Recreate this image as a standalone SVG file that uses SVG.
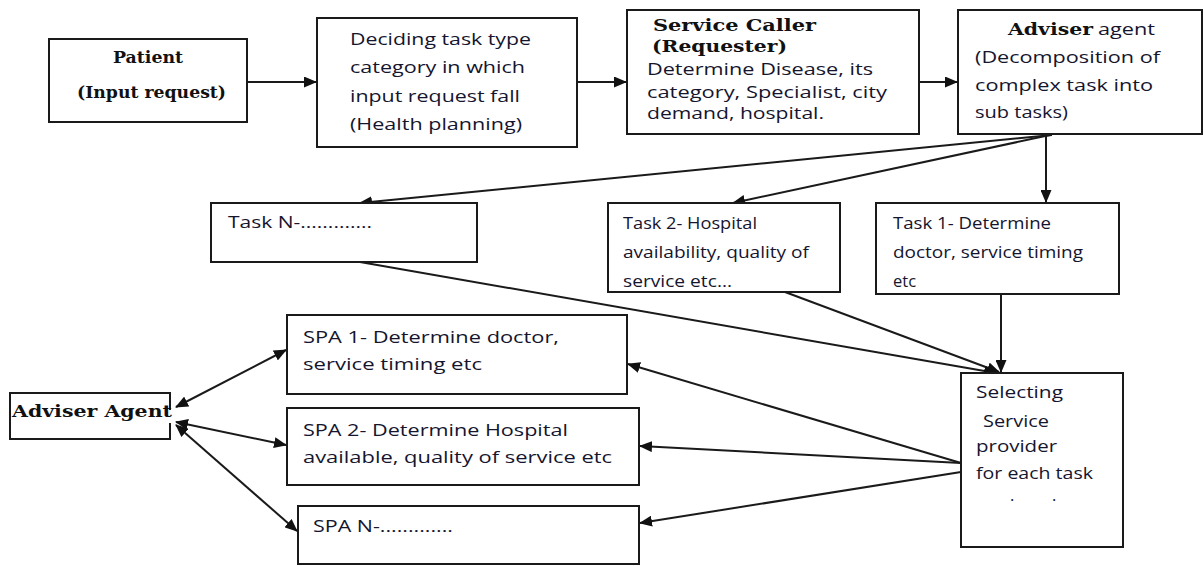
<svg xmlns="http://www.w3.org/2000/svg" width="1204" height="566" viewBox="0 0 1204 566">
  <style>
    .box { fill: #fff; stroke: #1a1a1a; stroke-width: 2; }
    .t { font-family: "Open Sans", "Noto Sans", sans-serif; font-size: 16.5px; fill: #15152e; }
    .b { font-family: "DejaVu Serif", "Liberation Serif", serif; font-size: 16px; font-weight: bold; fill: #111; }
    .edge { fill: none; stroke: #1a1a1a; stroke-width: 2; }
  </style>
  <defs>
    <marker id="arr" markerUnits="userSpaceOnUse" markerWidth="13" markerHeight="11" refX="12" refY="5.5" orient="auto-start-reverse">
      <path d="M0,0 L13,5.5 L0,11 z" fill="#111"/>
    </marker>
  </defs>
  <rect width="1204" height="566" fill="#fff"/>

  <g id="connectors">
    <line class="edge" x1="247" y1="82" x2="316" y2="82" marker-end="url(#arr)"/>
    <line class="edge" x1="577" y1="82" x2="626" y2="82" marker-end="url(#arr)"/>
    <line class="edge" x1="919" y1="82" x2="957" y2="82" marker-end="url(#arr)"/>
    <line class="edge" x1="1046" y1="135" x2="1046" y2="202" marker-end="url(#arr)"/>
    <line class="edge" x1="1050" y1="135" x2="733" y2="203" marker-end="url(#arr)"/>
    <line class="edge" x1="1052" y1="135" x2="360" y2="203" marker-end="url(#arr)"/>
    <line class="edge" x1="1001" y1="294" x2="1001" y2="372" marker-end="url(#arr)"/>
    <line class="edge" x1="785" y1="292" x2="999" y2="372" marker-end="url(#arr)"/>
    <line class="edge" x1="360" y1="262" x2="996" y2="373" marker-end="url(#arr)"/>
    <line class="edge" x1="961" y1="463" x2="628" y2="364" marker-end="url(#arr)"/>
    <line class="edge" x1="961" y1="463" x2="640" y2="446" marker-end="url(#arr)"/>
    <line class="edge" x1="961" y1="472" x2="640" y2="523" marker-end="url(#arr)"/>
    <line class="edge" x1="176" y1="407" x2="286" y2="350" marker-start="url(#arr)" marker-end="url(#arr)"/>
    <line class="edge" x1="176" y1="422" x2="286" y2="445" marker-start="url(#arr)" marker-end="url(#arr)"/>
    <line class="edge" x1="176" y1="425" x2="297" y2="531" marker-start="url(#arr)" marker-end="url(#arr)"/>
  </g>

  <g id="patient">
    <rect class="box" x="49" y="39" width="198" height="83"/>
    <text class="b" x="113" y="63" textLength="70" lengthAdjust="spacingAndGlyphs">Patient</text>
    <text class="b" x="77" y="98" textLength="149" lengthAdjust="spacingAndGlyphs" font-weight="normal">(Input request)</text>
  </g>

  <g id="deciding">
    <rect class="box" x="317" y="18" width="260" height="129"/>
    <text class="t" x="350" y="45" textLength="181" lengthAdjust="spacingAndGlyphs">Deciding task type</text>
    <text class="t" x="350" y="73" textLength="175" lengthAdjust="spacingAndGlyphs">category in which</text>
    <text class="t" x="350" y="102" textLength="170" lengthAdjust="spacingAndGlyphs">input request fall</text>
    <text class="t" x="350" y="130" textLength="172" lengthAdjust="spacingAndGlyphs">(Health planning)</text>
  </g>

  <g id="service-caller">
    <rect class="box" x="627" y="10" width="292" height="124"/>
    <text class="b" x="653" y="31" font-size="15" textLength="163" lengthAdjust="spacingAndGlyphs">Service Caller</text>
    <text class="b" x="652" y="52" font-size="15" textLength="135" lengthAdjust="spacingAndGlyphs">(Requester)</text>
    <text class="t" x="647" y="75" textLength="226" lengthAdjust="spacingAndGlyphs">Determine Disease, its</text>
    <text class="t" x="647" y="98" textLength="240" lengthAdjust="spacingAndGlyphs">category, Specialist, city</text>
    <text class="t" x="647" y="119" textLength="177" lengthAdjust="spacingAndGlyphs">demand, hospital.</text>
  </g>

  <g id="adviser-top">
    <rect class="box" x="958" y="10" width="244" height="124"/>
    <text class="b" x="1008" y="35" textLength="85" lengthAdjust="spacingAndGlyphs">Adviser</text>
    <text class="t" x="1098" y="35" textLength="57" lengthAdjust="spacingAndGlyphs">agent</text>
    <text class="t" x="975" y="63" textLength="185" lengthAdjust="spacingAndGlyphs">(Decomposition of</text>
    <text class="t" x="975" y="91" textLength="178" lengthAdjust="spacingAndGlyphs">complex task into</text>
    <text class="t" x="975" y="118" textLength="93" lengthAdjust="spacingAndGlyphs">sub tasks)</text>
  </g>

  <g id="task-n">
    <rect class="box" x="211" y="203" width="266" height="59"/>
    <text class="t" x="228" y="228" textLength="144" lengthAdjust="spacingAndGlyphs">Task N-.............</text>
  </g>

  <g id="task-2">
    <rect class="box" x="608" y="203" width="232" height="89"/>
    <text class="t" x="623" y="229" textLength="134" lengthAdjust="spacingAndGlyphs">Task 2- Hospital</text>
    <text class="t" x="623" y="258" textLength="186" lengthAdjust="spacingAndGlyphs">availability, quality of</text>
    <text class="t" x="623" y="287" textLength="109" lengthAdjust="spacingAndGlyphs">service etc...</text>
  </g>

  <g id="task-1">
    <rect class="box" x="876" y="203" width="243" height="91"/>
    <text class="t" x="893" y="229" textLength="158" lengthAdjust="spacingAndGlyphs">Task 1- Determine</text>
    <text class="t" x="893" y="258" textLength="190" lengthAdjust="spacingAndGlyphs">doctor, service timing</text>
    <text class="t" x="893" y="287">etc</text>
  </g>

  <g id="selecting">
    <rect class="box" x="961" y="373" width="162" height="174"/>
    <text class="t" x="976" y="398" textLength="87" lengthAdjust="spacingAndGlyphs">Selecting</text>
    <text class="t" x="983" y="427" textLength="66" lengthAdjust="spacingAndGlyphs">Service</text>
    <text class="t" x="976" y="452" textLength="81" lengthAdjust="spacingAndGlyphs">provider</text>
    <text class="t" x="976" y="479" textLength="117" lengthAdjust="spacingAndGlyphs">for each task</text>
    <text class="t" x="1010" y="501">.</text>
    <text class="t" x="1052" y="501">.</text>
  </g>

  <g id="spa-1">
    <rect class="box" x="287" y="315" width="340" height="79"/>
    <text class="t" x="303" y="343" textLength="256" lengthAdjust="spacingAndGlyphs">SPA 1- Determine doctor,</text>
    <text class="t" x="303" y="370" textLength="179" lengthAdjust="spacingAndGlyphs">service timing etc</text>
  </g>

  <g id="spa-2">
    <rect class="box" x="287" y="408" width="352" height="77"/>
    <text class="t" x="303" y="436" textLength="265" lengthAdjust="spacingAndGlyphs">SPA 2- Determine Hospital</text>
    <text class="t" x="303" y="463" textLength="309" lengthAdjust="spacingAndGlyphs">available, quality of service etc</text>
  </g>

  <g id="spa-n">
    <rect class="box" x="298" y="506" width="341" height="58"/>
    <text class="t" x="313" y="532" textLength="140" lengthAdjust="spacingAndGlyphs">SPA N-.............</text>
  </g>

  <g id="adviser-agent">
    <rect class="box" x="10" y="393" width="160" height="46"/>
    <rect x="166" y="410" width="8" height="13" fill="#fff"/>
    <text class="b" x="12" y="417" textLength="160" lengthAdjust="spacingAndGlyphs">Adviser Agent</text>
  </g>
</svg>
